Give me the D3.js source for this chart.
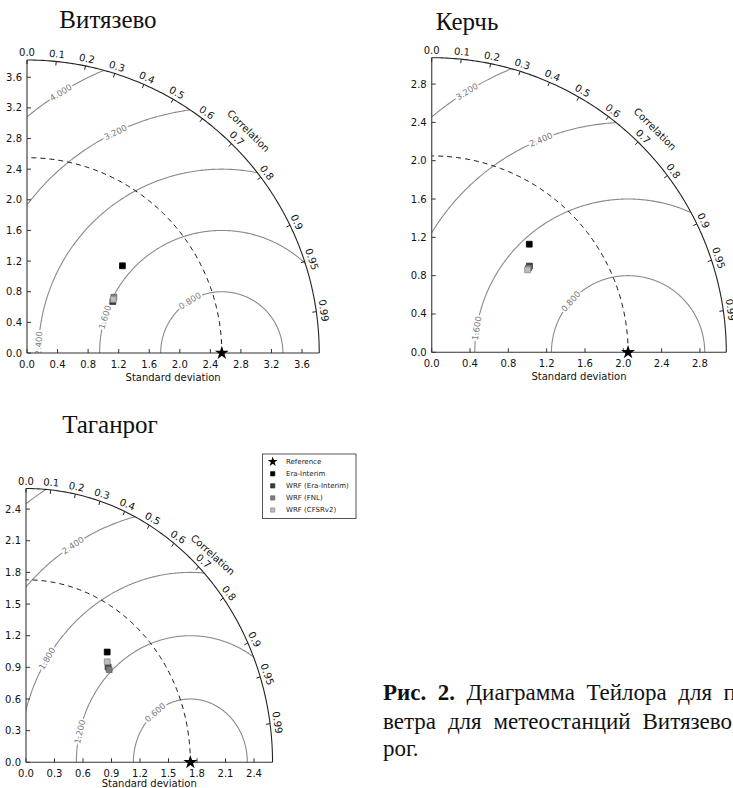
<!DOCTYPE html>
<html><head><meta charset="utf-8">
<script src="https://cdn.jsdelivr.net/npm/d3@7"></script>
<style>body{margin:0;background:#fff} svg{display:block}</style>
</head><body><svg id="c" width="733" height="788"></svg>
<script>
// ---------- data ----------
const stations = ["Витязево", "Керчь", "Таганрог"];
const models = ["Era-Interim", "WRF (Era-Interim)", "WRF (FNL)", "WRF (CFSRv2)"];
const refStd = [2.55, 2.05, 1.73];
const stdVityazevo = [1.69, 1.31, 1.35, 1.33];
const corrVityazevo = [0.739, 0.858, 0.842, 0.850];
const stdKerch = [1.52, 1.36, 1.34, 1.32];
const corrKerch = [0.670, 0.750, 0.754, 0.758];
const stdTaganrog = [1.35, 1.25, 1.24, 1.28];
const corrTaganrog = [0.633, 0.691, 0.706, 0.668];
const corrTicks = [0, 0.1, 0.2, 0.3, 0.4, 0.5, 0.6, 0.7, 0.8, 0.9, 0.95, 0.99];
const stdTicksVityazevo = [0, 0.4, 0.8, 1.2, 1.6, 2.0, 2.4, 2.8, 3.2, 3.6];
const stdTicksKerch = [0, 0.4, 0.8, 1.2, 1.6, 2.0, 2.4, 2.8];
const stdTicksTaganrog = [0, 0.3, 0.6, 0.9, 1.2, 1.5, 1.8, 2.1, 2.4];
const rmsVityazevo = [0.8, 1.6, 2.4, 3.2, 4.0];
const rmsKerch = [0.8, 1.6, 2.4, 3.2];
const rmsTaganrog = [0.6, 1.2, 1.8, 2.4, 3.0];

// ---------- layout / style ----------
const layouts = [
  {x0: 27, y0: 353, sx: 76.4, sy: 76.6, titleX: 108, titleY: 28, labelAng: [121.5, 163, 177, 115.8, 121.8], xlabOff: 24},
  {x0: 431.7, y0: 352.3, sx: 95.8, sy: 95.8, titleX: 467, titleY: 30, labelAng: [138.4, 171, 112.3, 121.7], xlabOff: 24},
  {x0: 26, y0: 762.3, sx: 95, sy: 105.5, titleX: 110, titleY: 433, labelAng: [128, 166, 146.9, 121, null], xlabOff: 21}
];
const markerFill = ["#000000", "#3c3c3c", "#7c7c7c", "#bdbdbd"];
const markerStroke = ["#000000", "#2a2a2a", "#666666", "#8a8a8a"];
const FONT = "DejaVu Sans";

const svg = d3.select("#c");
const stdSets = [stdVityazevo, stdKerch, stdTaganrog];
const corrSets = [corrVityazevo, corrKerch, corrTaganrog];
const tickSets = [stdTicksVityazevo, stdTicksKerch, stdTicksTaganrog];
const rmsSets = [rmsVityazevo, rmsKerch, rmsTaganrog];

stations.forEach((name, i) => {
  const L = layouts[i];
  const ref = refStd[i];
  const max = 1.5 * ref;
  const X = d3.scaleLinear().domain([0, max]).range([L.x0, L.x0 + max * L.sx]);
  const Y = d3.scaleLinear().domain([0, max]).range([L.y0, L.y0 - max * L.sy]);
  const P = (r, t) => [X(r * Math.cos(t)), Y(r * Math.sin(t))];
  const g = svg.append("g");
  const line = d3.line();

  // clip
  const clipId = "clip" + i;
  const qpts = [[X(0), Y(0)]].concat(d3.range(0, 90.01, 1).map(a => P(max, a * Math.PI / 180)));
  svg.append("clipPath").attr("id", clipId).append("path").attr("d", line(qpts) + "Z");

  // title
  svg.append("text").attr("x", L.titleX).attr("y", L.titleY).attr("text-anchor", "middle")
    .attr("font-family", "Liberation Serif").attr("font-size", 25).attr("fill", "#111").text(name);

  // RMS contours
  const cg = g.append("g").attr("clip-path", `url(#${clipId})`);
  rmsSets[i].forEach((r, k) => {
    const pts = d3.range(0, 180.01, 0.5).map(a => {
      const t = a * Math.PI / 180;
      return [X(ref + r * Math.cos(t)), Y(r * Math.sin(t))];
    });
    cg.append("path").attr("d", line(pts)).attr("fill", "none").attr("stroke", "#8a8a8a").attr("stroke-width", 1.1);
  });
  // contour labels
  rmsSets[i].forEach((r, k) => {
    const a = L.labelAng[k];
    if (a == null) return;
    const t = a * Math.PI / 180;
    const px = X(ref + r * Math.cos(t)), py = Y(r * Math.sin(t));
    let vx = -Math.sin(t) * L.sx, vy = -Math.cos(t) * L.sy;
    if (vx < 0) { vx = -vx; vy = -vy; }
    const rot = Math.atan2(vy, vx) * 180 / Math.PI;
    cg.append("text").attr("transform", `translate(${px},${py}) rotate(${rot})`)
      .attr("text-anchor", "middle").attr("dominant-baseline", "central")
      .attr("font-family", FONT).attr("font-size", 8.5).attr("fill", "#7a7a7a")
      .attr("stroke", "#fff").attr("stroke-width", 3.5).attr("paint-order", "stroke")
      .text(d3.format(".3f")(r));
  });

  // reference dashed arc
  const rpts = d3.range(0, 90.01, 0.5).map(a => P(ref, a * Math.PI / 180));
  g.append("path").attr("d", line(rpts)).attr("fill", "none").attr("stroke", "#111")
    .attr("stroke-width", 1).attr("stroke-dasharray", "5,4");

  // outer arc + axes
  const opts = d3.range(0, 90.01, 0.5).map(a => P(max, a * Math.PI / 180));
  g.append("path").attr("d", line(opts)).attr("fill", "none").attr("stroke", "#222").attr("stroke-width", 1.1);
  g.append("line").attr("x1", X(0)).attr("y1", Y(0)).attr("x2", X(max)).attr("y2", Y(0)).attr("stroke", "#333").attr("stroke-width", 1.1);
  g.append("line").attr("x1", X(0)).attr("y1", Y(0)).attr("x2", X(0)).attr("y2", Y(max)).attr("stroke", "#555").attr("stroke-width", 1.3);

  // std axes ticks
  const fmt = d3.format(".1f");
  tickSets[i].forEach(v => {
    g.append("line").attr("x1", X(v)).attr("x2", X(v)).attr("y1", Y(0)).attr("y2", Y(0) - 4).attr("stroke", "#333");
    g.append("text").attr("x", X(v)).attr("y", Y(0) + 11).attr("text-anchor", "middle").attr("dominant-baseline", "central")
      .attr("font-family", FONT).attr("font-size", 10).attr("fill", "#111").text(fmt(v));
    g.append("line").attr("x1", X(0)).attr("x2", X(0) + 4).attr("y1", Y(v)).attr("y2", Y(v)).attr("stroke", "#333");
    g.append("text").attr("x", X(0) - 5).attr("y", Y(v)).attr("text-anchor", "end").attr("dominant-baseline", "central")
      .attr("font-family", FONT).attr("font-size", 10).attr("fill", "#111").text(fmt(v));
  });
  g.append("text").attr("x", (X(0) + X(max)) / 2).attr("y", Y(0) + L.xlabOff).attr("text-anchor", "middle")
    .attr("dominant-baseline", "central").attr("font-family", FONT).attr("font-size", 10).attr("fill", "#111")
    .text("Standard deviation");

  // correlation ticks
  corrTicks.forEach(c => {
    const t = Math.acos(c);
    const [px, py] = P(max, t);
    const dx = X(0) - px, dy = Y(0) - py, d = Math.hypot(dx, dy);
    const ux = dx / d, uy = dy / d;
    g.append("line").attr("x1", px).attr("y1", py).attr("x2", px + 4 * ux).attr("y2", py + 4 * uy).attr("stroke", "#222");
    const rot = Math.atan2(-Math.sin(t) * L.sy, Math.cos(t) * L.sx) * 180 / Math.PI + 90;
    g.append("text").attr("transform", `translate(${px - 7.5 * ux},${py - 7.5 * uy}) rotate(${rot})`)
      .attr("text-anchor", "middle").attr("dominant-baseline", "central")
      .attr("font-family", FONT).attr("font-size", 10).attr("fill", "#111").text(c === 0 ? "0.0" : String(c));
  });
  {
    const t = Math.PI / 4;
    const [px, py] = P(max * 1.072, t);
    const rot = Math.atan2(-Math.sin(t) * L.sy, Math.cos(t) * L.sx) * 180 / Math.PI + 90;
    g.append("text").attr("transform", `translate(${px},${py}) rotate(${rot})`)
      .attr("text-anchor", "middle").attr("dominant-baseline", "central")
      .attr("font-family", FONT).attr("font-size", 10).attr("fill", "#111").text("Correlation");
  }

  // model points
  const sq = d3.symbol().type(d3.symbolSquare).size(34);
  stdSets[i].forEach((s, k) => {
    const t = Math.acos(corrSets[i][k]);
    const [px, py] = P(s, t);
    g.append("path").attr("d", sq()).attr("transform", `translate(${px},${py})`)
      .attr("fill", markerFill[k]).attr("stroke", markerStroke[k]).attr("stroke-width", 0.8);
  });
  // reference star
  g.append("path").attr("d", d3.symbol().type(d3.symbolStar).size(60)()).attr("transform", `translate(${X(ref)},${Y(0)})`)
    .attr("fill", "#000");
});

// ---------- legend ----------
{
  const lg = svg.append("g");
  lg.append("rect").attr("x", 262.5).attr("y", 454).attr("width", 93.5).attr("height", 64.5)
    .attr("fill", "#fff").attr("stroke", "#444").attr("stroke-width", 0.9);
  const rowY = d3.scaleLinear().domain([0, 4]).range([461.7, 510]);
  const labels = ["Reference"].concat(models);
  labels.forEach((lab, k) => {
    const y = rowY(k);
    if (k === 0) {
      lg.append("path").attr("d", d3.symbol().type(d3.symbolStar).size(30)()).attr("transform", `translate(272.7,${y})`).attr("fill", "#000");
    } else {
      lg.append("path").attr("d", d3.symbol().type(d3.symbolSquare).size(18)()).attr("transform", `translate(272.7,${y})`)
        .attr("fill", markerFill[k - 1]).attr("stroke", markerStroke[k - 1]).attr("stroke-width", 0.7);
    }
    lg.append("text").attr("x", 286).attr("y", y).attr("dominant-baseline", "central")
      .attr("font-family", FONT).attr("font-size", 7).attr("fill", "#222").text(lab);
  });
}

// ---------- caption ----------
function capLine(y, boldPart, rest, measuredPart, targetEnd, spaces) {
  const tmp = svg.append("text").attr("font-family", "Liberation Serif").attr("font-size", 23).attr("x", 383).attr("y", y);
  if (boldPart) tmp.append("tspan").attr("font-weight", "bold").text(boldPart);
  tmp.append("tspan").text(measuredPart);
  const w = tmp.node().getComputedTextLength();
  tmp.remove();
  const ws = spaces ? (targetEnd - 383 - w) / spaces : 0;
  const t = svg.append("text").attr("font-family", "Liberation Serif").attr("font-size", 23).attr("x", 383).attr("y", y)
    .attr("fill", "#111").style("word-spacing", ws + "px");
  if (boldPart) t.append("tspan").attr("font-weight", "bold").text(boldPart);
  t.append("tspan").text(rest);
}
capLine(700, "Рис. 2.", " Диаграмма Тейлора для приземной скорости", " Диаграмма Тейлора для", 712, 4);
capLine(728.5, null, "ветра для метеостанций Витязево, Керчь и Таган-", "ветра для метеостанций Витязево", 732, 3);
svg.append("text").attr("font-family", "Liberation Serif").attr("font-size", 23).attr("x", 383).attr("y", 756)
  .attr("fill", "#111").text("рог.");
</script>
</body></html>
